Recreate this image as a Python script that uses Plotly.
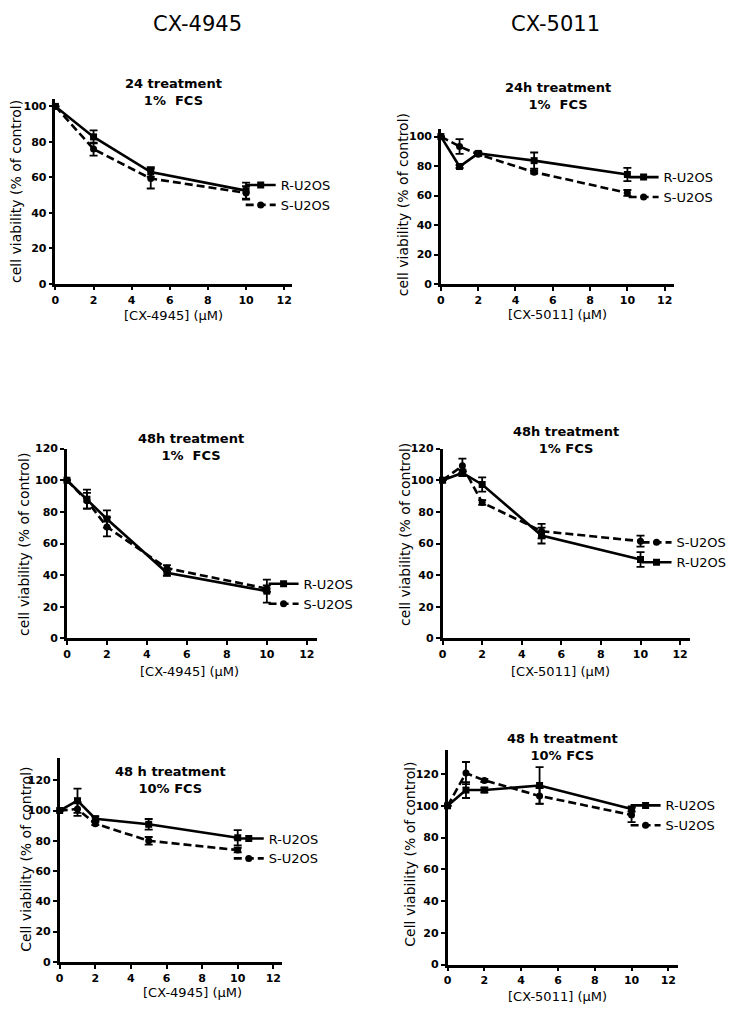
import plotly.graph_objects as go

W, H = 734, 1011

# ---------------- data ----------------
conc_4945_24h = [0, 2, 5, 10]
r_4945_24h = [100, 82.8, 63.0, 52.5]
r_4945_24h_err = [0, 3.7, 2.7, 4.5]
s_4945_24h = [100, 75.9, 59.3, 51.2]
s_4945_24h_err = [0, 3.7, 5.6, 3.8]

conc_5011_24h = [0, 1, 2, 5, 10]
r_5011_24h = [100, 79.7, 88.6, 83.7, 74.3]
r_5011_24h_err = [0, 1.0, 1.0, 5.5, 4.5]
s_5011_24h = [100, 93.3, 88.0, 75.9, 61.8]
s_5011_24h_err = [0, 5.0, 1.0, 1.0, 2.0]

conc_4945_48h = [0, 1, 2, 5, 10]
r_4945_48h = [100, 88.0, 75.5, 41.5, 29.9]
r_4945_48h_err = [0, 6.0, 5.4, 2.0, 7.3]
s_4945_48h = [100, 87.0, 70.5, 44.4, 31.5]
s_4945_48h_err = [0, 5.0, 6.0, 2.0, 2.0]

conc_5011_48h = [0, 1, 2, 5, 10]
r_5011_48h = [100, 104.6, 97.3, 65.0, 49.9]
r_5011_48h_err = [0, 2.0, 4.5, 5.0, 4.7]
s_5011_48h = [100, 109.1, 85.9, 67.8, 61.5]
s_5011_48h_err = [0, 4.5, 1.5, 4.6, 3.5]

conc_4945_10 = [0, 1, 2, 5, 10]
r_4945_10 = [100, 106.5, 94.6, 90.9, 82.0]
r_4945_10_err = [0, 8.0, 1.5, 3.5, 5.0]
s_4945_10 = [100, 101.0, 91.3, 80.0, 73.9]
s_4945_10_err = [0, 4.5, 1.0, 2.5, 1.5]

conc_5011_10 = [0, 1, 2, 5, 10]
r_5011_10 = [100, 109.9, 109.9, 112.8, 97.9]
r_5011_10_err = [0, 5.0, 1.5, 11.5, 1.5]
s_5011_10 = [100, 120.6, 116.0, 106.2, 94.2]
s_5011_10_err = [0, 7.0, 1.0, 5.0, 4.5]

x_ticks = [0, 2, 4, 6, 8, 10, 12]
col_titles = ["CX-4945", "CX-5011"]

panels = [
    dict(x=conc_4945_24h, r=r_4945_24h, re=r_4945_24h_err, s=s_4945_24h, se=s_4945_24h_err,
         title="24 treatment<br>1%\u00a0 FCS", ytitle="cell viability (% of control)",
         xtitle="[CX-4945] (\u03bcM)", s_first=False),
    dict(x=conc_5011_24h, r=r_5011_24h, re=r_5011_24h_err, s=s_5011_24h, se=s_5011_24h_err,
         title="24h treatment<br>1%\u00a0 FCS", ytitle="cell viability (% of control)",
         xtitle="[CX-5011] (\u03bcM)", s_first=False),
    dict(x=conc_4945_48h, r=r_4945_48h, re=r_4945_48h_err, s=s_4945_48h, se=s_4945_48h_err,
         title="48h treatment<br>1%\u00a0 FCS", ytitle="cell viability (% of control)",
         xtitle="[CX-4945] (\u03bcM)", s_first=False),
    dict(x=conc_5011_48h, r=r_5011_48h, re=r_5011_48h_err, s=s_5011_48h, se=s_5011_48h_err,
         title="48h treatment<br>1% FCS", ytitle="cell viability (% of control)",
         xtitle="[CX-5011] (\u03bcM)", s_first=True),
    dict(x=conc_4945_10, r=r_4945_10, re=r_4945_10_err, s=s_4945_10, se=s_4945_10_err,
         title="48 h treatment<br>10% FCS", ytitle="Cell viability (% of control)",
         xtitle="[CX-4945] (\u03bcM)", s_first=False),
    dict(x=conc_5011_10, r=r_5011_10, re=r_5011_10_err, s=s_5011_10, se=s_5011_10_err,
         title="48 h treatment<br>10% FCS", ytitle="Cell viability (% of control)",
         xtitle="[CX-5011] (\u03bcM)", s_first=False),
]

# ---------------- layout geometry (pixels) ----------------
# left px, x px-per-unit, x max, y0 px, y px-per-unit, y max
geo = [
    (51.7, 19.17, 12.4, 281.3, 1.796, 104),
    (439.3, 18.75, 12.5, 281.7, 1.494, 105),
    (63.3, 20.1, 12.5, 640.7, 1.603, 120),
    (441.0, 19.9, 12.5, 640.7, 1.603, 120),
    (56.0, 17.9, 12.5, 968.3, 1.533, 135),
    (446.0, 18.5, 12.5, 971.0, 1.608, 135),
]
title_pos = [(170, 87), (557, 91.5), (188, 446.5), (565, 440), (167, 784), (562, 750.5)]
ytitle_pos = [(12, 187.5), (402, 201), (20, 545), (403, 535), (22, 864), (408, 859)]
xtitle_pos = [(170, 313.5), (557, 312.5), (187, 674), (560, 674), (190, 999), (557, 1003)]
legend_text_pos = [(280, 191.5), (665, 183.5), (303, 595.5), (678, 553.5), (268, 853.5), (667, 820)]


def fx(px):
    return px / W


def fy(py):
    return 1 - py / H


FONT = "DejaVu Sans"
fig = go.Figure()
layout = dict(
    width=W, height=H, margin=dict(l=0, r=0, t=0, b=0),
    paper_bgcolor="white", plot_bgcolor="white",
    font=dict(family=FONT, color="black"),
    annotations=[],
)

for i, (p, g) in enumerate(zip(panels, geo)):
    k = "" if i == 0 else str(i + 1)
    left, xppu, xmax, y0, yppu, ymax = g
    right = left + xppu * xmax
    top = y0 - yppu * ymax
    lg = "legend" if i == 0 else f"legend{i+1}"

    r_tr = go.Scatter(
        x=p["x"], y=p["r"], name="R-U2OS", mode="lines+markers",
        line=dict(color="black", width=2.6),
        marker=dict(symbol="square", size=7, color="black"),
        error_y=dict(type="data", array=p["re"], color="black", thickness=1.8, width=4),
        xaxis="x" + k, yaxis="y" + k, legend=lg, cliponaxis=False,
    )
    s_tr = go.Scatter(
        x=p["x"], y=p["s"], name="S-U2OS", mode="lines+markers",
        line=dict(color="black", width=2.6, dash="8px,4px"),
        marker=dict(symbol="circle", size=7, color="black"),
        error_y=dict(type="data", array=p["se"], color="black", thickness=1.8, width=4),
        xaxis="x" + k, yaxis="y" + k, legend=lg, cliponaxis=False,
    )
    if p["s_first"]:
        fig.add_trace(s_tr)
        fig.add_trace(r_tr)
    else:
        fig.add_trace(r_tr)
        fig.add_trace(s_tr)

    axis_common = dict(
        showline=True, linecolor="black", linewidth=2.5, showgrid=False, zeroline=False,
        ticks="outside", ticklen=4, tickwidth=2, tickcolor="black",
        tickfont=dict(family=FONT, size=11, color="black", weight="bold"),
        fixedrange=True,
    )
    layout["xaxis" + k] = dict(
        axis_common, domain=[fx(left), fx(right)], range=[0, xmax],
        tickvals=x_ticks, anchor="y" + k,
    )
    layout["yaxis" + k] = dict(
        axis_common, domain=[fy(y0), fy(top)], range=[0, ymax],
        tickvals=list(range(0, int(ymax) + 1, 20)), anchor="x" + k,
    )
    lx, ly = legend_text_pos[i]
    layout[lg] = dict(
        x=fx(lx - 42), y=fy(ly), xanchor="left", yanchor="middle",
        bgcolor="rgba(0,0,0,0)", borderwidth=0, itemwidth=30,
        font=dict(family=FONT, size=13, color="black"), traceorder="normal",
        tracegroupgap=2,
    )
    tx, ty = title_pos[i]
    layout["annotations"].append(dict(
        text=p["title"], x=fx(tx), y=fy(ty), xref="paper", yref="paper",
        xanchor="center", yanchor="middle", showarrow=False,
        font=dict(family=FONT, size=13, color="black", weight="bold"),
    ))
    yx, yy = ytitle_pos[i]
    layout["annotations"].append(dict(
        text=p["ytitle"], x=fx(yx), y=fy(yy), xref="paper", yref="paper",
        xanchor="center", yanchor="middle", showarrow=False, textangle=-90,
        font=dict(family=FONT, size=14, color="black"),
    ))
    xx, xy = xtitle_pos[i]
    layout["annotations"].append(dict(
        text=p["xtitle"], x=fx(xx), y=fy(xy), xref="paper", yref="paper",
        xanchor="center", yanchor="middle", showarrow=False,
        font=dict(family=FONT, size=13, color="black"),
    ))

for t, cx in zip(col_titles, [195, 555]):
    layout["annotations"].append(dict(
        text=t, x=fx(cx), y=fy(18), xref="paper", yref="paper",
        xanchor="center", yanchor="middle", showarrow=False,
        font=dict(family=FONT, size=21, color="black"),
    ))

fig.update_layout(**layout)
fig.write_html(
    "out.html",
    config={"displayModeBar": False},
    post_script="document.body.style.margin='0';document.body.style.overflow='hidden';",
)
